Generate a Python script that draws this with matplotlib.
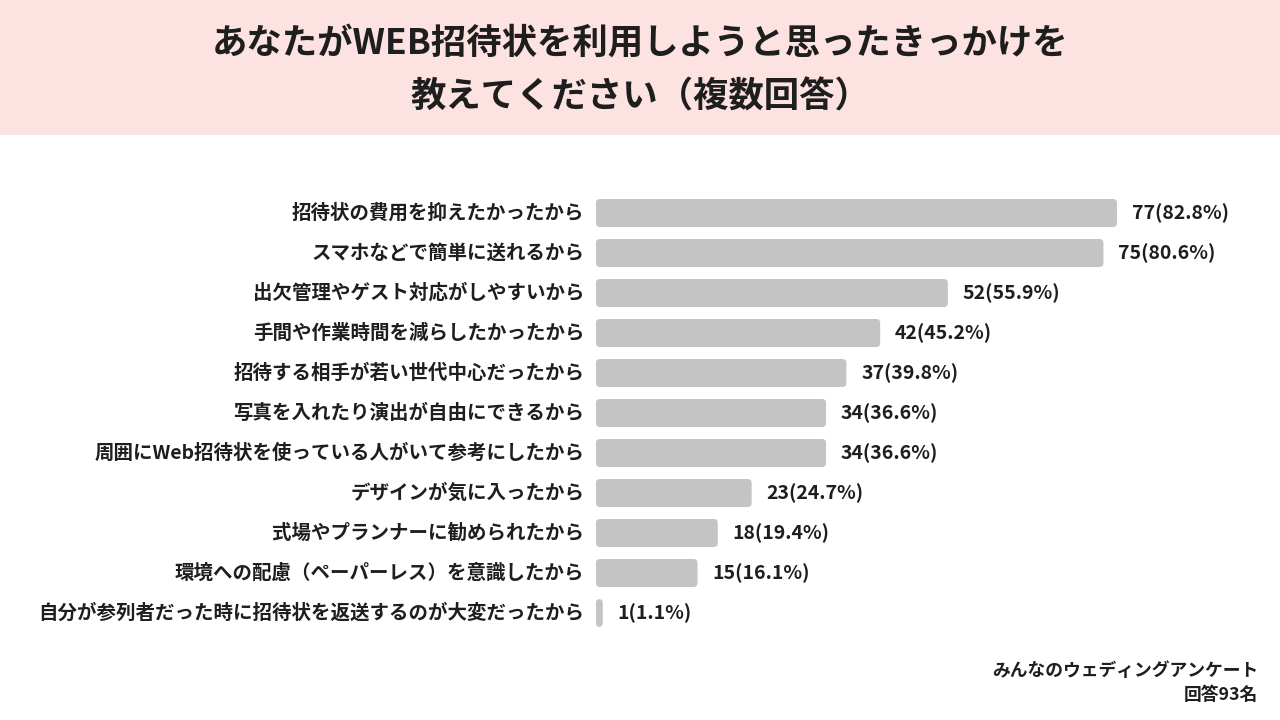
import matplotlib
matplotlib.use('Agg')
import matplotlib.pyplot as plt
from matplotlib.patches import FancyBboxPatch, Rectangle

plt.rcParams['font.family'] = ['Noto Sans CJK JP', 'DejaVu Sans']

# Data
labels = ['招待状の費用を抑えたかったから',
          'スマホなどで簡単に送れるから',
          '出欠管理やゲスト対応がしやすいから',
          '手間や作業時間を減らしたかったから',
          '招待する相手が若い世代中心だったから',
          '写真を入れたり演出が自由にできるから',
          '周囲にWeb招待状を使っている人がいて参考にしたから',
          'デザインが気に入ったから',
          '式場やプランナーに勧められたから',
          '環境への配慮（ペーパーレス）を意識したから',
          '自分が参列者だった時に招待状を返送するのが大変だったから']
counts   = [77, 75, 52, 42, 37, 34, 34, 23, 18, 15, 1]
percents = [82.8, 80.6, 55.9, 45.2, 39.8, 36.6, 36.6, 24.7, 19.4, 16.1, 1.1]

title    = 'あなたがWEB招待状を利用しようと思ったきっかけを\n教えてください（複数回答）'
source   = 'みんなのウェディングアンケート'
nAnswer  = '回答93名'

W, H     = 1280, 720
barColor = '#c4c4c4'
txtColor = '#1e1e1e'
pink     = '#fde2e2'

fig = plt.figure(figsize=(12.8, 7.2), dpi=100)
fig.patch.set_facecolor('white')

# header band
fig.patches.append(Rectangle((0, 1 - 135 / H), 1, 135 / H, transform=fig.transFigure,
                             facecolor=pink, edgecolor='none', zorder=0))
titleLines = title.split('\n')
fig.text(0.5, 1 - 43 / H, titleLines[0], ha='center', va='center', fontsize=25.5,
         fontweight='bold', color=txtColor)
fig.text(0.5, 1 - 97 / H, titleLines[1], ha='center', va='center', fontsize=25.5,
         fontweight='bold', color=txtColor)

# bar axes (pixels -> figure fractions)
pxPerUnit = 6.766
left, right = 596, 1280
top, bottom = 193, 633
ax = fig.add_axes([left / W, 1 - bottom / H, (right - left) / W, (bottom - top) / H])
ax.set_xlim(0, (right - left) / pxPerUnit)
ax.set_ylim(len(labels) - 0.5, -0.5)
ax.axis('off')

barH = 0.7
rad  = 0.6
for i, (c, p) in enumerate(zip(counts, percents)):
    box = FancyBboxPatch((0, i - barH / 2), c, barH,
                         boxstyle='round,pad=0,rounding_size=%f' % rad,
                         mutation_aspect=pxPerUnit / 40.0,
                         facecolor=barColor, edgecolor='none')
    ax.add_patch(box)
    ax.text(c + 2.2, i, '%d(%.1f%%)' % (c, p), ha='left', va='center',
            fontsize=14, fontweight='bold', color=txtColor)
    ax.text(-1.7, i, labels[i], ha='right', va='center',
            fontsize=14, fontweight='bold', color=txtColor, clip_on=False)

fig.text(1258 / W, 1 - 671 / H, source, ha='right', va='center',
         fontsize=12.8, fontweight='bold', color=txtColor)
fig.text(1258 / W, 1 - 695 / H, nAnswer, ha='right', va='center',
         fontsize=12.8, fontweight='bold', color=txtColor)

plt.savefig('out.png', dpi=100)
plt.close()
